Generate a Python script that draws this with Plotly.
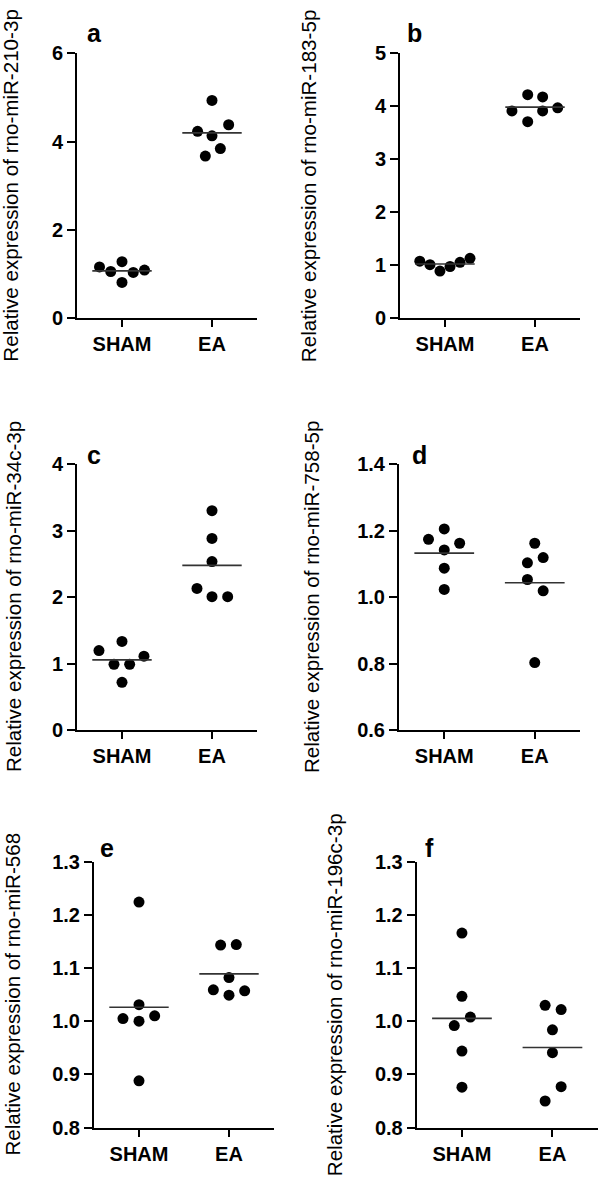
import numpy as np
import plotly.graph_objects as go

W, H = 598, 1185
CATEGORIES = ["SHAM", "EA"]

# ---- data (relative expression) ----
a_sham = [1.16, 1.057, 1.28, 0.81, 1.035, 1.09]
a_ea = [4.93, 4.23, 4.38, 4.13, 3.84, 3.67]
b_sham = [1.075, 1.01, 0.89, 0.975, 1.055, 1.13]
b_ea = [3.91, 4.218, 4.175, 3.91, 3.97, 3.707]
c_sham = [1.196, 1.333, 0.989, 0.989, 1.112, 0.718]
c_ea = [3.30, 2.883, 2.534, 2.130, 2.007, 2.007]
d_sham = [1.174, 1.205, 1.162, 1.142, 1.087, 1.023]
d_ea = [1.162, 1.103, 1.119, 1.053, 1.019, 0.803]
e_sham = [1.224, 1.031, 1.005, 1.0, 1.010, 0.888]
e_ea = [1.143, 1.144, 1.082, 1.059, 1.049, 1.057]
f_sham = [1.166, 1.047, 1.008, 0.992, 0.944, 0.876]
f_ea = [1.030, 1.022, 0.984, 0.941, 0.877, 0.850]

# horizontal spread of the dots around each category (category units)
a_sham_dx = [-0.25, -0.125, 0, 0, 0.125, 0.25]
a_ea_dx = [0, -0.16, 0.185, 0, 0.093, -0.074]
b_sham_dx = [-0.28, -0.167, -0.056, 0.056, 0.167, 0.278]
b_ea_dx = [-0.256, -0.081, 0.085, 0.085, 0.252, -0.081]
c_sham_dx = [-0.256, 0, -0.089, 0.085, 0.244, 0]
c_ea_dx = [0, 0, 0, -0.167, 0, 0.174]
d_sham_dx = [-0.174, 0, 0.17, 0, 0, 0]
d_ea_dx = [0, -0.081, 0.093, -0.081, 0.093, 0]
e_sham_dx = [0, 0, -0.178, 0, 0.174, 0]
e_ea_dx = [-0.093, 0.081, 0, -0.174, 0, 0.174]
f_sham_dx = [0, 0, 0.093, -0.085, 0, 0]
f_ea_dx = [-0.081, 0.096, 0, 0, 0.096, -0.081]

titles = [
    "Relative expression of rno-miR-210-3p",
    "Relative expression of rno-miR-183-5p",
    "Relative expression of rno-miR-34c-3p",
    "Relative expression of rno-miR-758-5p",
    "Relative expression of rno-miR-568",
    "Relative expression of rno-miR-196c-3p",
]
letters = ["a", "b", "c", "d", "e", "f"]
y_ranges = [[0, 6], [0, 5], [0, 4], [0.6, 1.4], [0.8, 1.3], [0.8, 1.3]]
y_ticks = [
    [0, 2, 4, 6],
    [0, 1, 2, 3, 4, 5],
    [0, 1, 2, 3, 4],
    [0.6, 0.8, 1.0, 1.2, 1.4],
    [0.8, 0.9, 1.0, 1.1, 1.2, 1.3],
    [0.8, 0.9, 1.0, 1.1, 1.2, 1.3],
]
y_fmt = ["d", "d", "d", ".1f", ".1f", ".1f"]

groups = [
    (a_sham, a_sham_dx, a_ea, a_ea_dx),
    (b_sham, b_sham_dx, b_ea, b_ea_dx),
    (c_sham, c_sham_dx, c_ea, c_ea_dx),
    (d_sham, d_sham_dx, d_ea, d_ea_dx),
    (e_sham, e_sham_dx, e_ea, e_ea_dx),
    (f_sham, f_sham_dx, f_ea, f_ea_dx),
]

# ---- layout (pixel boxes of each panel: left, right, top, bottom) ----
boxes = [
    (77, 257, 43, 313),
    (400, 580, 43, 313),
    (77, 257, 461.7, 732.7),
    (399, 580, 461.7, 732.7),
    (94, 274, 866.7, 1137.7),
    (416.7, 597.7, 867, 1137.7),
]
title_cx = [11, 308.5, 13, 311, 13, 334.5]
letter_pos = [(85, 39), (405, 39), (85, 469), (410, 469), (98, 869), (423, 869)]

FONT = "Liberation Sans, Arial, sans-serif"
fig = go.Figure()
annotations = []
layout = {}

for i in range(6):
    sfx = "" if i == 0 else str(i + 1)
    xa, ya = "x" + sfx, "y" + sfx
    sham, sham_dx, ea, ea_dx = groups[i]
    for ci, (vals, dx) in enumerate([(sham, sham_dx), (ea, ea_dx)]):
        xs = [ci + d for d in dx]
        fig.add_trace(go.Scatter(
            x=xs, y=vals, mode="markers", xaxis=xa, yaxis=ya,
            marker=dict(color="black", size=11, line=dict(width=0)),
            showlegend=False, hoverinfo="y", cliponaxis=False,
        ))
        m = float(np.mean(vals))
        fig.add_trace(go.Scatter(
            x=[ci - 0.33, ci + 0.33], y=[m, m], mode="lines",
            xaxis=xa, yaxis=ya, line=dict(color="#333333", width=1.6),
            showlegend=False, hoverinfo="skip",
        ))
    l, r, t, b = boxes[i]
    layout["xaxis" + sfx] = dict(
        domain=[l / W, r / W], anchor=ya, range=[-0.5, 1.5],
        tickvals=[0, 1], ticktext=CATEGORIES, showgrid=False, zeroline=False,
        showline=True, linewidth=2, linecolor="black",
        ticks="outside", ticklen=7, tickwidth=2, tickcolor="black",
        tickfont=dict(family=FONT, size=20, color="black", weight="bold"),
        fixedrange=True,
    )
    layout["yaxis" + sfx] = dict(
        domain=[1 - b / H, 1 - t / H], anchor=xa, range=y_ranges[i],
        tickvals=y_ticks[i], tickformat=y_fmt[i], showgrid=False, zeroline=False,
        showline=True, linewidth=2, linecolor="black",
        ticks="outside", ticklen=8, tickwidth=2, tickcolor="black",
        tickfont=dict(family=FONT, size=20, color="black", weight="bold"),
        fixedrange=True,
    )
    annotations.append(dict(
        text=titles[i], xref="paper", yref="paper",
        x=title_cx[i] / W, y=1 - ((t + b) / 2) / H,
        xanchor="center", yanchor="middle", textangle=-90, showarrow=False,
        font=dict(family=FONT, size=20.6, color="black"),
    ))
    lx, ly = letter_pos[i]
    annotations.append(dict(
        text=letters[i], xref="paper", yref="paper",
        x=lx / W, y=1 - ly / H, xanchor="left", yanchor="bottom",
        showarrow=False,
        font=dict(family=FONT, size=25, color="black", weight="bold"),
    ))

fig.update_layout(
    width=W, height=H, margin=dict(l=0, r=0, t=0, b=0),
    paper_bgcolor="white", plot_bgcolor="white",
    annotations=annotations, **layout,
)

fig.write_html(
    "out.html",
    config={"displayModeBar": False},
    post_script="document.body.style.margin='0';",
)
